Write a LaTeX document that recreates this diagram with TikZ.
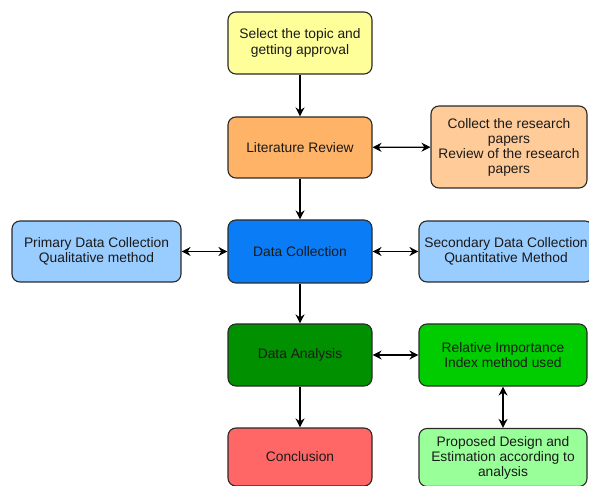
\documentclass[tikz,border=0pt]{standalone}
\usepackage{fontspec}
\setmainfont{Liberation Sans}
\usetikzlibrary{arrows.meta}
\definecolor{cyellow}{HTML}{FFFF99}
\definecolor{corange}{HTML}{FFB366}
\definecolor{clorange}{HTML}{FFCC99}
\definecolor{clblue}{HTML}{99CCFF}
\definecolor{cblue}{HTML}{0A7CF5}
\definecolor{cdgreen}{HTML}{009000}
\definecolor{cgreen}{HTML}{00CC00}
\definecolor{clgreen}{HTML}{99FF99}
\definecolor{cred}{HTML}{FF6666}
\definecolor{cborder}{HTML}{2A2A2A}
\definecolor{ctext}{HTML}{1A1A1A}
\tikzset{
  box/.style={draw=cborder, line width=1.1pt, rounded corners=8pt, align=center,
    font=\fontsize{13.8}{15}\selectfont, text=ctext, inner sep=0pt},
  conn/.style={line width=1.2pt, -{Stealth[length=9pt,width=9pt]}},
  dconn/.style={line width=1.2pt, {Stealth[length=9pt,width=9pt]}-{Stealth[length=9pt,width=9pt]}}
}
\begin{document}
\begin{tikzpicture}[x=1pt,y=-1pt]
\useasboundingbox (0,0) rectangle (589,486);
\begin{scope}
\clip (0,0) rectangle (589,486);
\node[box, fill=cyellow, minimum width=144pt, minimum height=62pt] (topic) at (300,43) {Select the topic and\\[1.5pt]getting approval};
\node[box, fill=corange, minimum width=144pt, minimum height=61pt] (lit) at (300,147.5) {Literature Review};
\node[box, fill=clorange, minimum width=156pt, minimum height=82pt] (collect) at (509,147) {Collect the research\\papers\\Review of the research\\papers};
\node[box, fill=clblue, minimum width=169pt, minimum height=61pt] (prim) at (96.5,251.5) {Primary Data Collection\\Qualitative method};
\node[box, fill=cblue, minimum width=144pt, minimum height=63pt] (dc) at (300,251.5) {Data Collection};
\node[box, fill=clblue, minimum width=174pt, minimum height=61pt] (sec) at (506,251.5) {Secondary Data Collection\\Quantitative Method};
\node[box, fill=cdgreen, minimum width=144pt, minimum height=62pt] (da) at (300,355) {Data Analysis};
\node[box, fill=cgreen, minimum width=168pt, minimum height=62pt] (rii) at (503,355) {Relative Importance\\Index method used};
\node[box, fill=cred, minimum width=144pt, minimum height=58pt] (conc) at (300,457) {Conclusion};
\node[box, fill=clgreen, minimum width=168pt, minimum height=58pt] (prop) at (503,457.5) {Proposed Design and\\Estimation according to\\analysis};
\end{scope}
\draw[conn] (topic) -- (lit);
\draw[dconn] (lit) -- (collect);
\draw[conn] (lit) -- (dc);
\draw[dconn] (prim) -- (dc);
\draw[dconn] (dc) -- (sec);
\draw[conn] (dc) -- (da);
\draw[dconn] (da) -- (rii);
\draw[conn] (da) -- (conc);
\draw[dconn] (rii) -- (prop);
\end{tikzpicture}
\end{document}
